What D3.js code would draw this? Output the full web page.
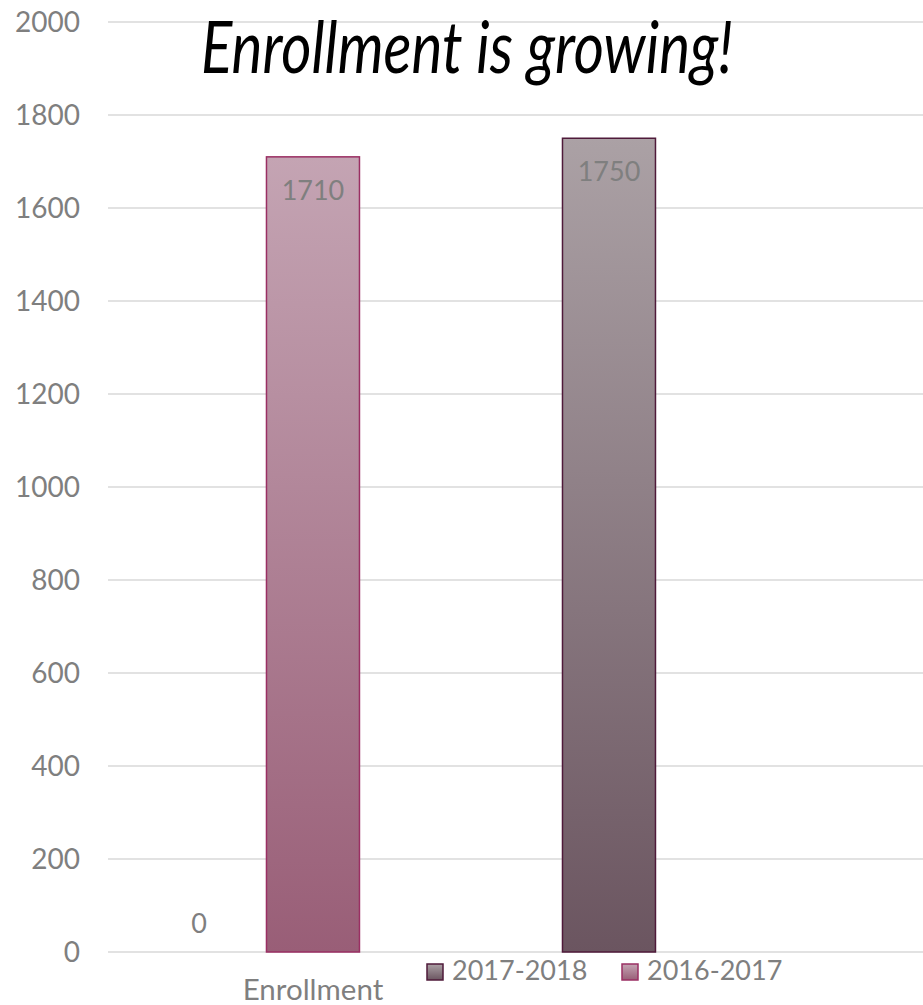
<!DOCTYPE html>
<html>
<head>
<meta charset="utf-8">
<script src="https://cdn.jsdelivr.net/npm/d3@7"></script>
<style>
  html, body { margin: 0; padding: 0; background: #fff; }
  svg { display: block; }
</style>
</head>
<body>
<div id="chart"></div>
<script>
// Enrollment chart data
const category = "Enrollment";
const seriesNames = ["", "2016-2017", "2017-2018"];
const seriesValues = [0, 1710, 1750];
const legendOrder = ["2017-2018", "2016-2017"];
const yTicks = [0, 200, 400, 600, 800, 1000, 1200, 1400, 1600, 1800, 2000];

const W = 923, H = 1005;
const margin = { left: 108, right: 0, top: 22, bottom: 53 };
const font = "Lato, 'Open Sans', sans-serif";

const colors = {
  "2016-2017": { top: "#c4a4b3", bottom: "#995e77", stroke: "#9a2f63" },
  "2017-2018": { top: "#aba1a5", bottom: "#6b5560", stroke: "#4f1a3a" },
  "": { top: "#ccc", bottom: "#999", stroke: "#999" }
};

const svg = d3.select("#chart").append("svg")
  .attr("width", W).attr("height", H);

const defs = svg.append("defs");
seriesNames.forEach((s, i) => {
  const g = defs.append("linearGradient")
    .attr("id", "grad" + i)
    .attr("x1", 0).attr("y1", 0).attr("x2", 0).attr("y2", 1);
  g.append("stop").attr("offset", "0%").attr("stop-color", colors[s].top);
  g.append("stop").attr("offset", "100%").attr("stop-color", colors[s].bottom);
});

const y = d3.scaleLinear().domain([0, 2000]).range([H - margin.bottom, margin.top]);

// Series slots within the plot width
const x = d3.scaleOrdinal()
  .domain(seriesNames)
  .range([0.1117, 0.2515, 0.6147].map(f => margin.left + f * (W - margin.left - margin.right)));
const barWidth = 93;

// Gridlines
svg.append("g")
  .selectAll("line")
  .data(yTicks)
  .join("line")
  .attr("x1", margin.left).attr("x2", W - margin.right)
  .attr("y1", d => y(d)).attr("y2", d => y(d))
  .attr("stroke", "#d9d9d9").attr("stroke-width", 1.5);

// Y axis labels
const yAxis = d3.axisLeft(y).tickValues(yTicks).tickFormat(d3.format("d")).tickSize(0).tickPadding(0);
const yg = svg.append("g").attr("transform", "translate(80,0)").call(yAxis);
yg.select(".domain").remove();
yg.selectAll("text")
  .attr("font-family", font).attr("font-size", 28)
  .attr("fill", "#7f7f7f").attr("dy", "0.35em");

// Bars
const data = seriesNames.map((s, i) => ({ s, v: seriesValues[i], i }));
svg.append("g")
  .selectAll("rect")
  .data(data.filter(d => d.v > 0))
  .join("rect")
  .attr("x", d => x(d.s) - barWidth / 2)
  .attr("y", d => y(d.v))
  .attr("width", barWidth)
  .attr("height", d => y(0) - y(d.v))
  .attr("fill", d => `url(#grad${d.i})`)
  .attr("stroke", d => colors[d.s].stroke)
  .attr("stroke-width", 1.5);

// Value labels
svg.append("g")
  .selectAll("text")
  .data(data)
  .join("text")
  .attr("x", d => x(d.s))
  .attr("y", d => d.v > 0 ? y(d.v) + 43 : y(0) - 19)
  .attr("text-anchor", "middle")
  .attr("font-family", font).attr("font-size", 27)
  .attr("fill", "#7f7f7f")
  .text(d => d.v);

// Title
svg.append("text")
  .attr("x", 201).attr("y", 73)
  .attr("font-family", font).attr("font-style", "italic").attr("font-size", 72)
  .attr("textLength", 532).attr("lengthAdjust", "spacingAndGlyphs")
  .attr("fill", "#000")
  .text("Enrollment is growing!");

// Category label
svg.append("text")
  .attr("x", x("2016-2017")).attr("y", 1000)
  .attr("text-anchor", "middle")
  .attr("font-family", font).attr("font-size", 29.5)
  .attr("fill", "#7f7f7f")
  .text(category);

// Legend
const legend = svg.append("g");
const legendX = [427, 622];
legendOrder.forEach((s, k) => {
  const i = seriesNames.indexOf(s);
  legend.append("rect")
    .attr("x", legendX[k]).attr("y", 964)
    .attr("width", 16).attr("height", 16)
    .attr("fill", `url(#grad${i})`)
    .attr("stroke", colors[s].stroke).attr("stroke-width", 1.5);
  legend.append("text")
    .attr("x", legendX[k] + 25).attr("y", 980)
    .attr("font-family", font).attr("font-size", 27)
    .attr("fill", "#7f7f7f")
    .text(s);
});
</script>
</body>
</html>
